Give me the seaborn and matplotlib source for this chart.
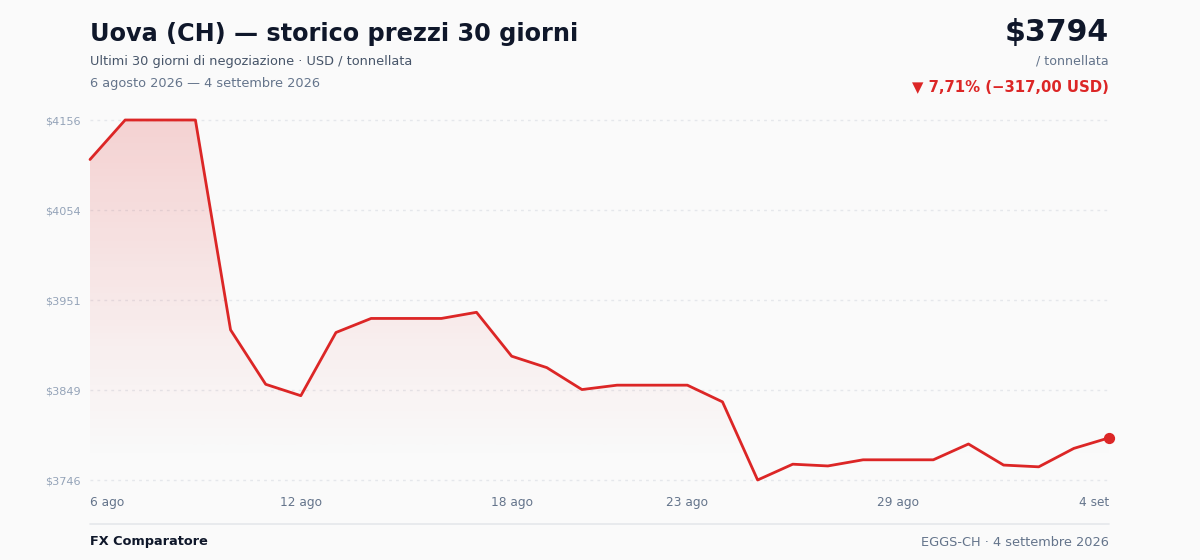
import matplotlib
matplotlib.use("Agg")
import matplotlib.pyplot as plt
import seaborn as sns
import numpy as np
import pandas as pd
from matplotlib.colors import LinearSegmentedColormap
from matplotlib.patches import Polygon

# ---- data ----
days = list(range(30))
prices = [4111, 4156, 4156, 4156, 3917, 3855, 3842, 3914, 3930, 3930,
          3930, 3937, 3887, 3874, 3849, 3854, 3854, 3854, 3835, 3746,
          3764, 3762, 3769, 3769, 3769, 3787, 3763, 3761, 3782, 3794]
tick_idx = [0, 6, 12, 17, 23, 29]
tick_labels = ["6 ago", "12 ago", "18 ago", "23 ago", "29 ago", "4 set"]
y_ticks = [3746, 3848.5, 3951, 4053.5, 4156]
y_tick_labels = ["$3746", "$3849", "$3951", "$4054", "$4156"]

title = "Uova (CH) — storico prezzi 30 giorni"
subtitle = "Ultimi 30 giorni di negoziazione · USD / tonnellata"
date_range = "6 agosto 2026 — 4 settembre 2026"
last_price = "$3794"
unit = "/ tonnellata"
change = "▼ 7,71% (−317,00 USD)"
brand = "FX Comparatore"
footer_right = "EGGS-CH · 4 settembre 2026"

RED = "#dc2626"
BG = "#fafafa"

sns.set_theme(style="white")
plt.rcParams["font.family"] = ["DejaVu Sans"]

df = pd.DataFrame({"day": days, "price": prices})

fig = plt.figure(figsize=(12, 5.6), dpi=100, facecolor=BG)
W, H = 1200, 560
ax = fig.add_axes([90 / W, 1 - 480 / H, (1109 - 90) / W, (480 - 120) / H])
ax.set_facecolor(BG)

ymin, ymax = 3746, 4156
ax.set_xlim(0, 29)
ax.set_ylim(ymin, ymax)

# grid
for yv in y_ticks:
    ax.axhline(yv, color="#e5e7eb", lw=1, ls=(0, (2, 3)), zorder=0, clip_on=False)

# gradient fill
grad = np.linspace(0, 1, 256).reshape(-1, 1)
cmap = LinearSegmentedColormap.from_list(
    "g", [(0.0, (0.863, 0.149, 0.149, 0.0)), (0.05, (0.863, 0.149, 0.149, 0.0)),
          (0.35, (0.863, 0.149, 0.149, 0.05)),
          (1.0, (0.863, 0.149, 0.149, 0.19))], N=256)
img = ax.imshow(grad, extent=[0, 29, ymin, ymax], origin="lower", aspect="auto",
                cmap=cmap, zorder=1, interpolation="bicubic")
verts = [(0, ymin)] + list(zip(days, prices)) + [(29, ymin)]
poly = Polygon(verts, closed=True, facecolor="none", edgecolor="none")
ax.add_patch(poly)
img.set_clip_path(poly)

sns.lineplot(data=df, x="day", y="price", ax=ax, color=RED, lw=2, zorder=3)
for l in ax.lines:
    l.set_clip_on(False)
ax.scatter([days[-1]], [prices[-1]], s=50, color=RED, zorder=4, clip_on=False)

for s in ax.spines.values():
    s.set_visible(False)
ax.set_xlabel("")
ax.set_ylabel("")
ax.set_yticks(y_ticks)
ax.set_yticklabels(y_tick_labels, fontsize=8.1, color="#94a3b8")
ax.set_xticks(tick_idx)
ax.set_xticklabels(tick_labels, fontsize=8.7, color="#64748b")
ax.tick_params(axis="both", length=0)
ax.tick_params(axis="y", pad=7)
ax.tick_params(axis="x", pad=11.5)
xl = ax.get_xticklabels()
xl[0].set_ha("left")
xl[-1].set_ha("right")

# header text
fig.text(90 / W, 1 - 34 / H, title, fontsize=17.3, fontweight="bold", color="#0f172a",
         ha="left", va="center")
fig.text(90 / W, 1 - 61 / H, subtitle, fontsize=9.25, color="#475569", ha="left", va="center")
fig.text(90 / W, 1 - 83 / H, date_range, fontsize=9.3, color="#64748b", ha="left", va="center")
fig.text(1109 / W, 1 - 33 / H, last_price, fontsize=21.6, fontweight="bold", color="#0f172a",
         ha="right", va="center")
fig.text(1109 / W, 1 - 61 / H, unit, fontsize=9.1, color="#64748b", ha="right", va="center")
fig.text(1109 / W, 1 - 87 / H, change, fontsize=10.7, fontweight="bold", color=RED,
         ha="right", va="center")

# footer
fig.add_artist(plt.Line2D([90 / W, 1109 / W], [1 - 524 / H, 1 - 524 / H],
                          color="#e5e7eb", lw=1.2))
fig.text(90 / W, 1 - 542 / H, brand, fontsize=9.3, fontweight="bold", color="#0f172a",
         ha="left", va="center")
fig.text(1109 / W, 1 - 542 / H, footer_right, fontsize=9.25, color="#64748b",
         ha="right", va="center")

fig.savefig("out.png", dpi=100, facecolor=BG)
